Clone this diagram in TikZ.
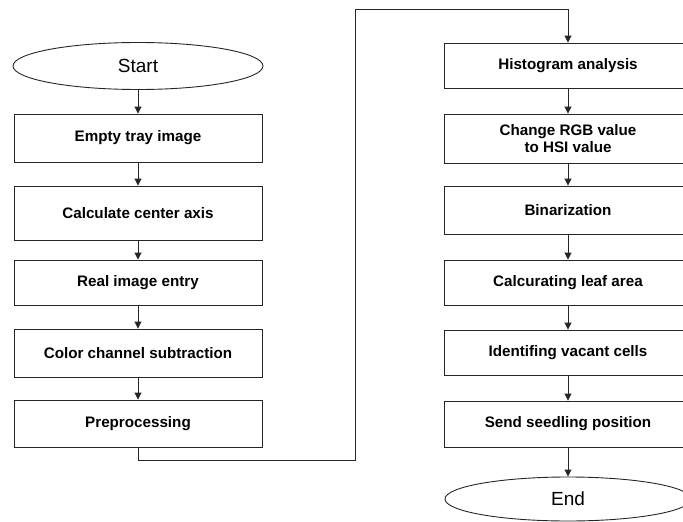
\documentclass[tikz,border=0pt]{standalone}
\usepackage{fontspec}
\setmainfont{Liberation Sans}
\usetikzlibrary{arrows.meta,shapes.geometric}

\tikzset{
  stepbox/.style={draw=black!85, line width=0.9pt, minimum width=248pt,
    inner sep=0pt, align=center, font=\fontsize{15.2}{17.5}\selectfont\bfseries},
  terminal/.style={draw=black!85, line width=0.9pt, ellipse, minimum width=250pt,
    minimum height=47pt, inner sep=0pt, font=\fontsize{19}{22}\selectfont},
  flow/.style={draw=black!85, line width=0.9pt,
    -{Triangle[length=7pt,width=7pt]}},
  link/.style={draw=black!85, line width=0.9pt}
}

\begin{document}
\begin{tikzpicture}[x=1pt,y=-1pt]
\useasboundingbox (0,0) rectangle (683,522);

% left column
\node[terminal] (start) at (138,66) {Start};
\node[stepbox, minimum height=48pt] (tray)  at (138,138) {Empty tray image};
\node[stepbox, minimum height=54pt] (axis)  at (138,213) {Calculate center axis};
\node[stepbox, minimum height=45pt] (real)  at (138,282.5) {Real image entry};
\node[stepbox, minimum height=48pt] (color) at (138,353) {Color channel subtraction};
\node[stepbox, minimum height=47pt] (pre)   at (138,423.5) {Preprocessing};

% right column
\node[stepbox, minimum height=45pt] (hist)  at (568,65.5) {Histogram analysis};
\node[stepbox, minimum height=49pt] (hsi)   at (568,138.5) {Change RGB value\\to HSI value};
\node[stepbox, minimum height=48pt] (bin)   at (568,210) {Binarization};
\node[stepbox, minimum height=45pt] (leaf)  at (568,282.5) {Calcurating leaf area};
\node[stepbox, minimum height=45pt] (vac)   at (568,352.5) {Identifing vacant cells};
\node[stepbox, minimum height=46pt] (send)  at (568,424) {Send seedling position};
\node[terminal, minimum width=246pt, minimum height=44pt] (end) at (568,499) {End};

% connectors
\draw[flow] (start) -- (tray);
\draw[flow] (tray) -- (axis);
\draw[flow] (axis) -- (real);
\draw[flow] (real) -- (color);
\draw[flow] (color) -- (pre);

\coordinate (c1) at (138,460);
\coordinate (c2) at (355,460);
\coordinate (c3) at (355,9);
\coordinate (c4) at (568,9);
\draw[link] (pre.south) -- (c1) -- (c2) -- (c3) -- (c4);
\draw[flow] (c4) -- (hist.north);

\draw[flow] (hist) -- (hsi);
\draw[flow] (hsi) -- (bin);
\draw[flow] (bin) -- (leaf);
\draw[flow] (leaf) -- (vac);
\draw[flow] (vac) -- (send);
\draw[flow] (send) -- (end);
\end{tikzpicture}
\end{document}
